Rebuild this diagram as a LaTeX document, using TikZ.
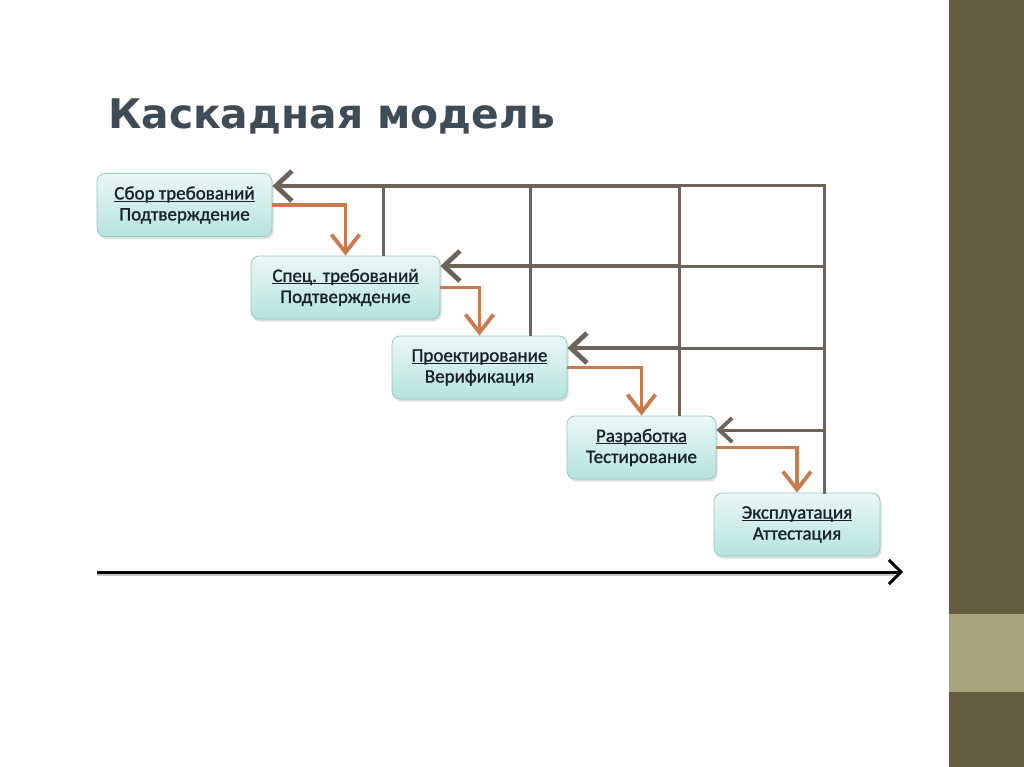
\documentclass[tikz,border=0pt]{standalone}
\usepackage{fontspec}
\setmainfont{Carlito}
\newfontfamily\boxfont{Carlito}[FakeBold=1.2]
\newfontfamily\titlefont{DejaVu Sans}
\usetikzlibrary{arrows.meta,shadows,calc}
\definecolor{slidegray}{RGB}{224,224,224}
\definecolor{barolive}{RGB}{101,93,66}
\definecolor{barlight}{RGB}{168,165,122}
\definecolor{titlecol}{RGB}{62,76,87}
\definecolor{fbgray}{RGB}{108,100,90}
\definecolor{flowor}{RGB}{202,122,76}
\definecolor{boxtop}{RGB}{234,248,246}
\definecolor{boxbot}{RGB}{182,227,221}
\definecolor{boxedge}{RGB}{150,202,196}
\definecolor{txtcol}{RGB}{24,34,40}
\pgfdeclareradialshading{slideglow}{\pgfpoint{0bp}{0bp}}{color(0bp)=(white); color(30bp)=(white); color(50bp)=(slidegray)}
\newcommand\myul[1]{\setbox0\hbox{#1}\rlap{\rule[-2.3pt]{\wd0}{1pt}}\box0}
\tikzset{
  phase/.style={draw=boxedge, line width=0.8pt, rounded corners=8pt,
    top color=boxtop, bottom color=boxbot, inner sep=0pt,
    minimum height=63pt, align=center, text=txtcol,
    font=\boxfont\fontsize{19}{21}\selectfont,
    drop shadow={opacity=0.25, shadow xshift=1.5pt, shadow yshift=-2.5pt}},
  fb/.style={draw=fbgray, line width=3pt},
  fbhead/.style={-{Straight Barb[length=16pt,width=30pt,line width=4.8pt]}},
  flow/.style={draw=flowor, line width=3.5pt,
    -{Straight Barb[length=18pt,width=28pt,line width=3.8pt]}},
}
\begin{document}
\begin{tikzpicture}[x=1pt,y=-1pt]
\useasboundingbox (0,0) rectangle (1024,767);
% background
\begin{scope}
\clip (0,0) rectangle (949,767);
\shade[shading=slideglow] (-175,-267) rectangle (1125,1033);
\end{scope}
\fill[white] (90,93) rectangle (907,595);
\fill[barolive] (949,0) rectangle (1024,767);
\fill[barlight] (949,614) rectangle (1024,692);
% title
\node[anchor=base west, inner sep=0pt, text=titlecol,
  font=\titlefont\bfseries\fontsize{36}{42}\selectfont] (title) at (108,129)
  {\resizebox{447pt}{!}{Каскадная модель}};
% phases
\node[phase, minimum width=175pt] (b1) at (184.5,205) {\myul{Сбор требований}\\Подтверждение};
\node[phase, minimum width=189pt] (b2) at (345.5,287.5) {\myul{Спец. требований}\\Подтверждение};
\node[phase, minimum width=175pt] (b3) at (479.5,367.5) {\myul{Проектирование}\\Верификация};
\node[phase, minimum width=149pt] (b4) at (641.5,447.5) {\myul{Разработка}\\Тестирование};
\node[phase, minimum width=166pt] (b5) at (797,524.5) {\myul{Эксплуатация}\\Аттестация};
% feedback grid coordinates
\coordinate (c1) at (383,186);
\coordinate (c2) at (530,186);
\coordinate (c3) at (679,186);
\coordinate (c4) at (824,186);
\coordinate (e2) at (824,266);
\coordinate (e3) at (824,348);
\coordinate (e4) at (824,430);
% verticals
\draw[fb] (c1) -- (c1 |- b2.north);
\draw[fb] (c2) -- (c2 |- b3.north);
\draw[fb] (c3) -- (c3 |- b4.north);
\draw[fb, line cap=rect] (c4) -- (c4 |- b5.north);
% row 1
\draw[fb, line cap=rect] (c4) -- (c3);
\draw[fb, line width=3.5pt] (c3) -- (c2);
\draw[fb, line width=4pt] (c2) -- (c1);
\draw[fb, fbhead, line width=4.8pt] (c1) -- (b1.east |- c1);
% row 2
\draw[fb] (e2) -- (c3 |- e2);
\draw[fb, line width=3.7pt] (c3 |- e2) -- (c2 |- e2);
\draw[fb, fbhead, line width=4.8pt] (c2 |- e2) -- (b2.east |- e2);
% row 3
\draw[fb] (e3) -- (c3 |- e3);
\draw[fb, fbhead, line width=4.2pt] (c3 |- e3) -- (b3.east |- e3);
% row 4
\draw[fb, -{Straight Barb[length=13pt,width=24pt,line width=3.8pt]}] (e4) -- (b4.east |- e4);
% forward flow
\draw[flow] (b1.east) -| (b2.north);
\draw[flow] (b2.east) -| (b3.north);
\draw[flow] (b3.east) -| (b4.north);
\draw[flow] (b4.east) -| (b5.north);
% time axis
\coordinate (a0) at (97,572);
\coordinate (a1) at (903,572);
\draw[black!35, line width=3pt, opacity=0.6] ([yshift=-2.5pt]a0) -- ([yshift=-2.5pt,xshift=-8pt]a1);
\draw[black, line width=3pt, -{Straight Barb[length=12pt,width=24pt,line width=3pt]}] (a0) -- (a1);
\end{tikzpicture}
\end{document}
